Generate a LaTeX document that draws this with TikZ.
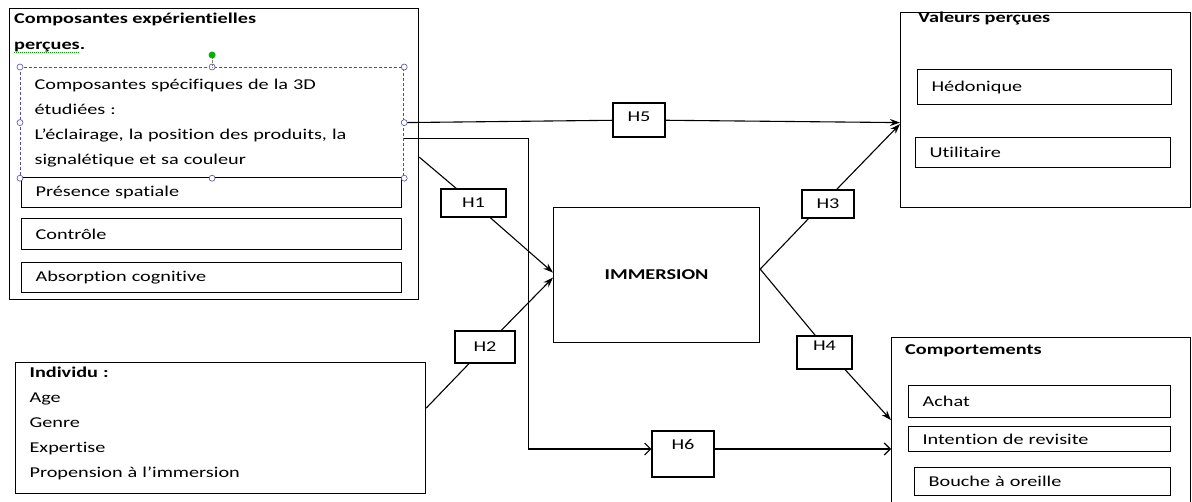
\documentclass[tikz,border=0pt]{standalone}
\usepackage{fontspec}
\setmainfont{Carlito}[FakeStretch=1.35, Ligatures={TeX,NoCommon}]
\usetikzlibrary{arrows.meta,backgrounds}

\begin{document}
\begin{tikzpicture}[
  x=1pt, y=-1pt,
  font=\fontsize{15}{25}\selectfont,
  frame/.style={draw, line width=1.2pt, anchor=north west, inner sep=0pt},
  item/.style={draw, line width=1.2pt, anchor=north west, align=left,
               inner xsep=14pt, inner ysep=0pt},
  hyp/.style={draw, fill=white, line width=1.2pt, inner sep=0pt},
  title/.style={anchor=north west, inner sep=0pt, align=left,
                font=\fontsize{15}{26}\selectfont\bfseries},
  handle/.style={draw=gray!60!blue, fill=white, line width=0.6pt},
  link/.style={line width=1.1pt, -{Stealth[length=10pt,width=7pt]}},
  open/.style={line width=1.1pt, -{Straight Barb[length=6pt,width=12pt]}}
]
\useasboundingbox (0,0) rectangle (1192,502);

\node[frame, minimum width=409, minimum height=291] (exp) at (9,8) {};
\node[title] (exptitle) at (14,13) {Composantes expérientielles\\perçues.};
\node[item, text width=355, minimum height=110, draw=gray!60!blue, densely dashed] (spec) at (20,67)
  {Composantes spécifiques de la 3D\\étudiées :\\L’éclairage, la position des produits, la\\signalétique et sa couleur};
\node[item, text width=352, minimum height=30] (pres) at (21,177) {Présence spatiale};
\node[item, text width=352, minimum height=31] (ctrl) at (21,218) {Contrôle};
\node[item, text width=352, minimum height=30] (absorp) at (21,262) {Absorption cognitive};

\node[item, text width=382, minimum height=131] (indiv) at (15,362)
  {\textbf{Individu :}\\Age\\Genre\\Expertise\\Propension à l’immersion\rule[-12pt]{0pt}{12pt}};

\node[frame, minimum width=206, minimum height=135, font=\fontsize{15}{25}\selectfont\bfseries] (imm) at (553,207) {IMMERSION};

\node[frame, minimum width=290, minimum height=195] (val) at (900,12) {};
\node[title] (valtitle) at (918,12) {Valeurs perçues};
\node[item, text width=226, minimum height=35] (hedo) at (917,69) {Hédonique};
\node[item, text width=227, minimum height=30] (util) at (915,137) {Utilitaire};

\node[frame, minimum width=299, minimum height=173] (comp) at (891,337) {};
\node[title] (comptitle) at (905,344) {Comportements};
\node[item, text width=234, minimum height=32] (achat) at (908,385) {Achat};
\node[item, text width=234, minimum height=25] (revis) at (908,426) {Intention de revisite};
\node[item, text width=228, minimum height=28] (bouche) at (914,467) {Bouche à oreille};

\node[hyp, minimum width=65, minimum height=28] (h1) at (473.5,203) {H1};
\node[hyp, minimum width=60, minimum height=32] (h2) at (485,347) {H2};
\node[hyp, minimum width=52, minimum height=28] (h3) at (828,204) {H3};
\node[hyp, minimum width=55, minimum height=33] (h4) at (824.5,352.5) {H4\rule[-14pt]{0pt}{14pt}};
\node[hyp, minimum width=52, minimum height=34] (h5) at (639,120) {H5\rule[-6pt]{0pt}{6pt}};
\node[hyp, minimum width=62, minimum height=46] (h6) at (683,454) {H6\rule[-20pt]{0pt}{20pt}};

\begin{scope}[on background layer]
\draw[link] ([yshift=-3pt]exp.east) -- (h1.center) -- ([yshift=2.5pt]imm.west);
\draw[link] ([yshift=20pt]indiv.east) -- (h2.center) -- ([yshift=-2.5pt]imm.west);
\draw[link] ([yshift=6pt]imm.east) -- ([xshift=-5.5pt]h3.center) -- ([yshift=-14pt]val.west);
\draw[link] ([yshift=6pt]imm.east) -- ([xshift=5pt]h4.center) -- ([yshift=4pt]comp.west);
\draw[link] (spec.east) -- (h5.center) -- (spec.east -| val.west);
\end{scope}

\coordinate (h6out) at ([yshift=5pt]h6.east);
\draw[open] ([yshift=-16pt]spec.east) -- ++(124,0) |- ([yshift=5pt]h6.west);
\draw[open] (h6out) -- (h6out -| comp.west);

\foreach \a in {north west, north, north east, east, south east, south, south west, west}
  \draw[handle] (spec.\a) circle (3pt);
\draw[densely dotted, gray] (spec.north) -- ++(0,-9);
\fill[green!70!black] ([yshift=12pt]spec.north) circle (3.5pt);
\draw[green!60!black, densely dotted, line width=1pt] (14,53) -- (80,53);

\end{tikzpicture}
\end{document}
